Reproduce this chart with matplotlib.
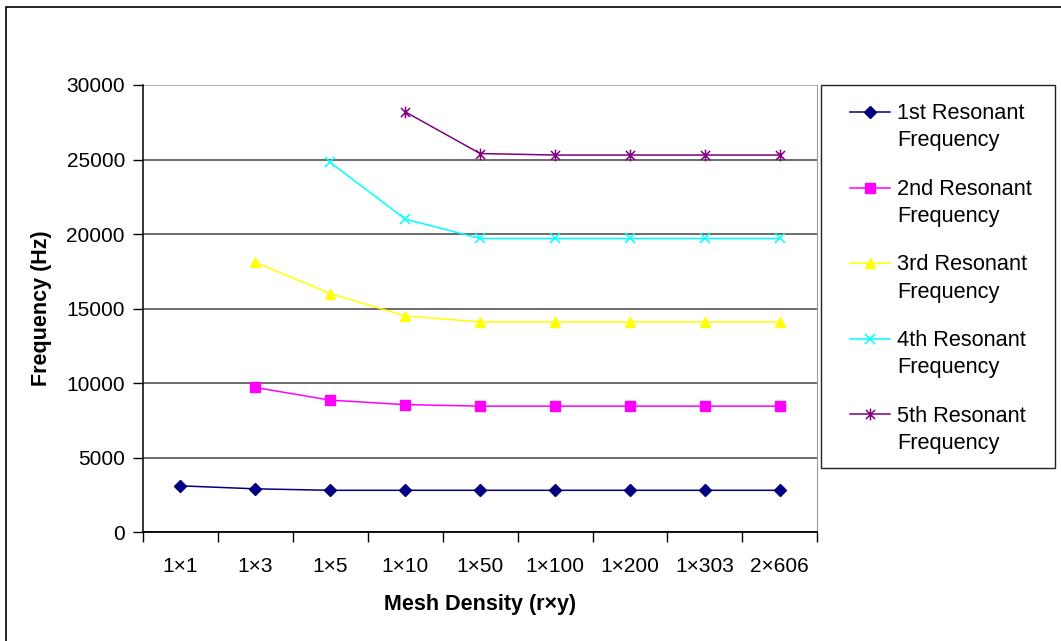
import numpy as np
import matplotlib
matplotlib.use("Agg")
import matplotlib.pyplot as plt
from matplotlib.path import Path
from matplotlib.patches import Rectangle
from matplotlib.lines import Line2D
from matplotlib.legend_handler import HandlerLine2D

plt.rcParams['font.family'] = ['Liberation Sans', 'DejaVu Sans']

# data
categories = ["1\u00d71", "1\u00d73", "1\u00d75", "1\u00d710", "1\u00d750",
              "1\u00d7100", "1\u00d7200", "1\u00d7303", "2\u00d7606"]
f1 = [3100, 2900, 2800, 2800, 2800, 2800, 2800, 2800, 2800]
f2 = [np.nan, 9700, 8850, 8550, 8450, 8450, 8450, 8450, 8450]
f3 = [np.nan, 18100, 16000, 14500, 14100, 14100, 14100, 14100, 14100]
f4 = [np.nan, np.nan, 24800, 21000, 19700, 19700, 19700, 19700, 19700]
f5 = [np.nan, np.nan, np.nan, 28200, 25400, 25300, 25300, 25300, 25300]
labels = ["1st Resonant\nFrequency", "2nd Resonant\nFrequency", "3rd Resonant\nFrequency",
          "4th Resonant\nFrequency", "5th Resonant\nFrequency"]

# excel style star marker: x with a vertical bar
star = Path([(-1, -1), (1, 1), (-1, 1), (1, -1), (0, -1.3), (0, 1.3)],
            [Path.MOVETO, Path.LINETO, Path.MOVETO, Path.LINETO, Path.MOVETO, Path.LINETO])


class FirstLineHandler(HandlerLine2D):
    # put the legend sample next to the first line of a two-line label
    def create_artists(self, legend, orig_handle, xdescent, ydescent, width, height, fontsize, trans):
        arts = super().create_artists(legend, orig_handle, xdescent, ydescent, width, height, fontsize, trans)
        for a in arts:
            a.set_ydata(np.asarray(a.get_ydata()) + 0.72 * fontsize)
        return arts


fig = plt.figure(figsize=(10.61, 6.41), dpi=100)
ax = fig.add_axes([0.1348, 0.170, 0.6355, 0.6974])

x = np.arange(len(categories))
ax.plot(x, f1, color='#000080', marker='D', ms=6.3, lw=1.1, label=labels[0])
ax.plot(x, f2, color='#FF00FF', marker='s', ms=6.5, lw=1.1, label=labels[1])
ax.plot(x, f3, color='#FFFF00', marker='^', ms=7.5, lw=1.1, label=labels[2])
ax.plot(x, f4, color='#00FFFF', marker='x', ms=7.5, mew=1.1, lw=1.1, label=labels[3])
ax.plot(x, f5, color='#800080', marker=star, ms=8.5, mew=1.1, mfc='none', lw=1.1, label=labels[4])

ax.set_xlim(-0.5, len(categories) - 0.5)
ax.set_ylim(0, 30000)
ax.set_yticks(np.arange(0, 30001, 5000))
ax.yaxis.grid(True, color='#444444', lw=1.1)
ax.get_ygridlines()[-1].set_color('#999999')
ax.set_axisbelow(True)

ax.set_xticks(x)
ax.set_xticklabels(categories, fontsize=15)
ax.set_xticks(np.arange(-0.5, len(categories)), minor=True)
ax.tick_params(axis='x', which='major', length=0, pad=18)
ax.tick_params(axis='x', which='minor', length=7, width=1, direction='out')
ax.tick_params(axis='y', labelsize=15, length=7, width=1, direction='out', pad=6)

ax.spines['right'].set_color('#999999')
ax.spines['top'].set_visible(False)
ax.spines['left'].set_linewidth(1.1)
ax.spines['bottom'].set_linewidth(1.3)

ax.set_xlabel('Mesh Density (r\u00d7y)', fontsize=15.5, fontweight='bold', labelpad=13)
ax.set_ylabel('Frequency (Hz)', fontsize=15.5, fontweight='bold', labelpad=10)

leg = ax.legend(loc='upper left', bbox_to_anchor=(850 / 1061, 1 - 103 / 641), bbox_transform=fig.transFigure,
                borderaxespad=0, borderpad=0, fontsize=15.7, frameon=False,
                handlelength=1.85, labelspacing=1.25, handletextpad=0.3,
                handler_map={Line2D: FirstLineHandler()})
for t in leg.get_texts():
    t.set_linespacing(1.4)

# legend box
fig.add_artist(Rectangle((821 / 1061, 1 - 468 / 641), 234 / 1061, 383 / 641, transform=fig.transFigure,
                         fill=False, ec='#222222', lw=1.0))

# outer chart border
fig.add_artist(Rectangle((6 / 1061, -0.1), 2, 634 / 641 + 0.1, transform=fig.transFigure,
                         fill=False, ec='black', lw=1.2))

fig.savefig('out.png', dpi=100)
